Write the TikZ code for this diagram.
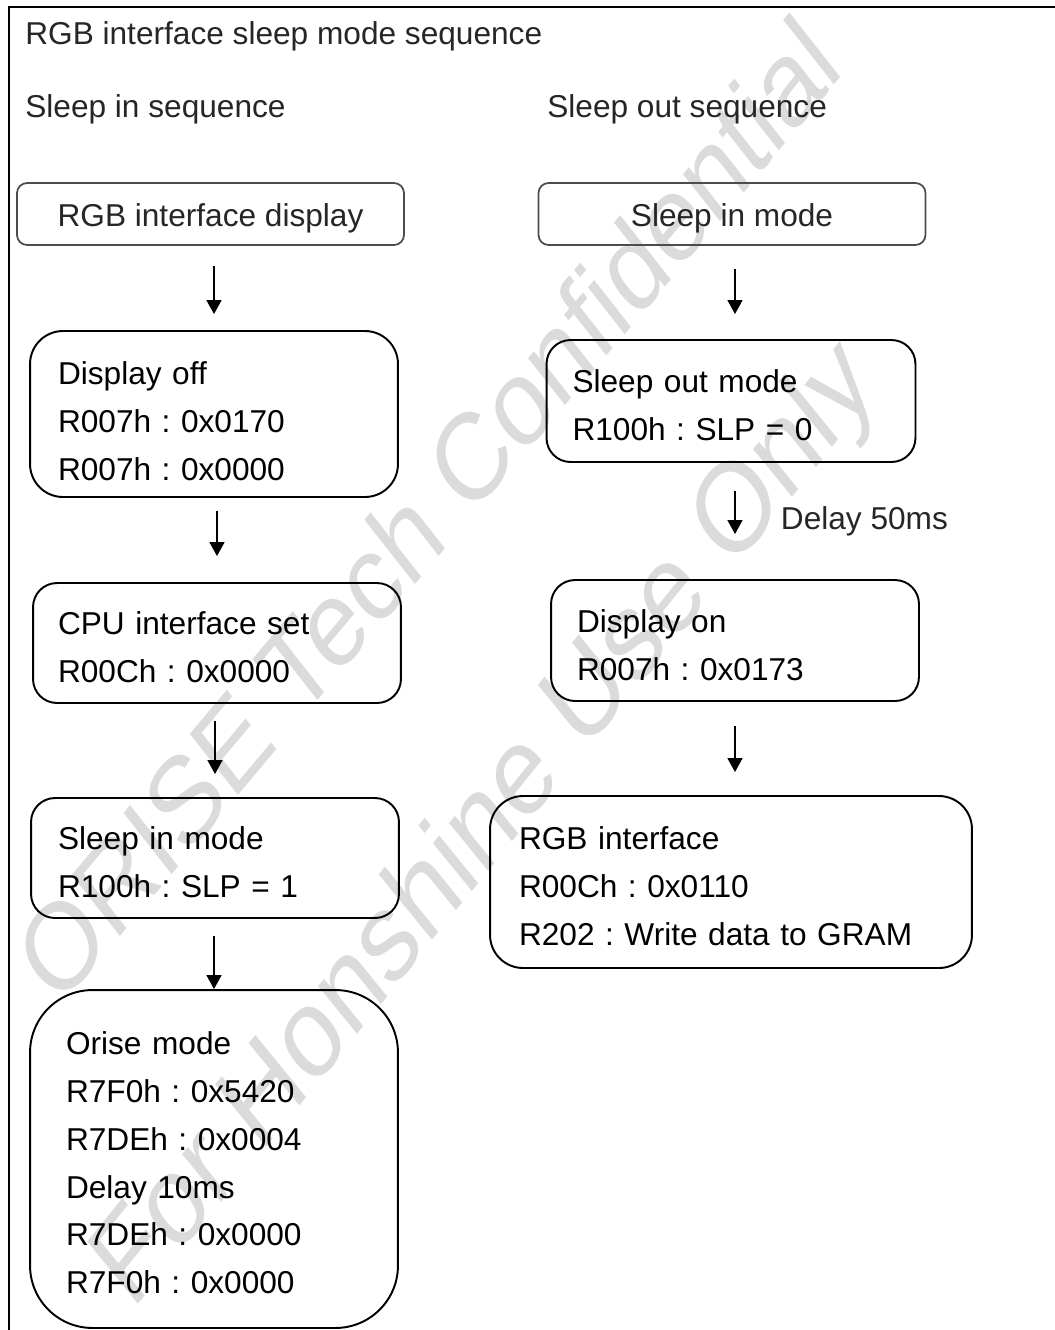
\documentclass[tikz,border=0pt]{standalone}
\usepackage{fontspec}
\setmainfont{Liberation Sans}
\newfontfamily\stampfont{Liberation Sans}[FakeSlant=0.21]
\usetikzlibrary{arrows.meta, positioning, calc}
\tikzset{
    headbox/.style={
        rectangle, draw=black!70, line width=1pt,
        rounded corners=0.2cm, minimum width=7.74cm, minimum height=1.24cm,
        text height=14pt, text depth=0.2pt,
        text=black!85, font=\fontsize{18pt}{22pt}\selectfont
    },
    regbox/.style={
        rectangle, draw, line width=1.1pt, align=left, inner ysep=0pt,
        rounded corners=0.48cm, font=\fontsize{18pt}{27.2pt}\selectfont,
        execute at begin node={\rule{0pt}{17.5pt}}
    },
    % plain labels
    caption/.style={anchor=west, inner sep=0pt, text=black!85, font=\fontsize{18pt}{22pt}\selectfont},
    flow/.style={-{Triangle[length=8pt,width=8.5pt]}, line width=1.1pt},
    stamp/.style={text=black!14, rotate=51, inner sep=0pt, font=\fontsize{63pt}{66pt}\stampfont}
}

\begin{document}
\frenchspacing
\begin{tikzpicture}[x=0.02cm, y=-0.02cm]
    \useasboundingbox (0,0) rectangle (1055,1330);

    % watermark
    \node[stamp, rotate=-1] (stampA) at (422,515) {ORISE Tech Confidential};
    \node[stamp, font=\fontsize{65pt}{68pt}\stampfont] (stampB) at (483,832) {For Honshine Use Only};

    \draw[line width=1.1pt] (9,1330) -- (9,7) -- (1055,7);

    \node[caption] (title) at (25,36) {RGB interface sleep mode sequence};
    \node[caption] (inSeq) at (25,109) {Sleep in sequence};
    \node[caption] (outSeq) at (547,109) {Sleep out sequence};

    % Sleep in sequence
    \node[headbox] (rgbDisp) at (210.5,214) {RGB interface display};
    \node[regbox, rounded corners=0.66cm, inner xsep=0.56cm, text width=6.24cm, minimum height=3.32cm,
          execute at begin node={\rule{0pt}{21pt}}] (dispOff) at (214,414)
        {Display off\\R007h : 0x0170\\R007h : 0x0000};
    \node[regbox, inner xsep=0.5cm, text width=6.36cm, minimum height=2.4cm] (cpuSet) at (217,643)
        {CPU interface set\\R00Ch : 0x0000};
    \node[regbox, inner xsep=0.54cm, text width=6.28cm, minimum height=2.4cm] (sleepIn) at (215,858)
        {Sleep in mode\\R100h : SLP = 1};
    \node[regbox, rounded corners=1.25cm, inner xsep=0.72cm, text width=5.92cm, minimum height=6.76cm] (orise) at (214,1159)
        {Orise mode\\R7F0h : 0x5420\\R7DEh : 0x0004\\Delay 10ms\\R7DEh : 0x0000\\R7F0h : 0x0000};

    \draw[flow, shorten <=0.4cm, shorten >=0.32cm] (rgbDisp.south -| dispOff.north) -- (dispOff.north);
    \draw[flow, shorten <=0.26cm, shorten >=0.52cm] (dispOff.south -| cpuSet.north) -- (cpuSet.north);
    \draw[flow, shorten <=0.34cm, shorten >=0.46cm] (cpuSet.south -| sleepIn.north) -- (sleepIn.north);
    \draw[flow, shorten <=0.34cm] (sleepIn.south -| orise.north) -- (orise.north);

    % Sleep out sequence
    \node[headbox] (sleepHead) at (732,214) {Sleep in mode};
    \node[regbox, inner xsep=0.52cm, text width=6.34cm, minimum height=2.44cm] (sleepOut) at (731,401)
        {Sleep out mode\\R100h : SLP = 0};
    \node[regbox, inner xsep=0.52cm, text width=6.32cm, minimum height=2.42cm,
          execute at begin node={\rule{0pt}{18.7pt}}] (dispOn) at (735,640.5)
        {Display on\\R007h : 0x0173};
    \node[regbox, rounded corners=0.66cm, inner xsep=0.58cm, text width=8.48cm, minimum height=3.44cm] (rgbIf) at (731,882)
        {RGB interface\\R00Ch : 0x0110\\R202 : Write data to GRAM};

    \draw[flow, shorten <=0.46cm, shorten >=0.5cm] (sleepHead.south -| dispOn.north) -- (sleepOut.north -| dispOn.north);
    \draw[flow, shorten <=0.56cm, shorten >=0.9cm] (sleepOut.south -| dispOn.north) -- node[caption, xshift=0.9cm] (delay) {Delay 50ms} (dispOn.north);
    \draw[flow, shorten <=0.48cm, shorten >=0.46cm] (dispOn.south) -- (rgbIf.north -| dispOn.south);
\end{tikzpicture}
\end{document}
